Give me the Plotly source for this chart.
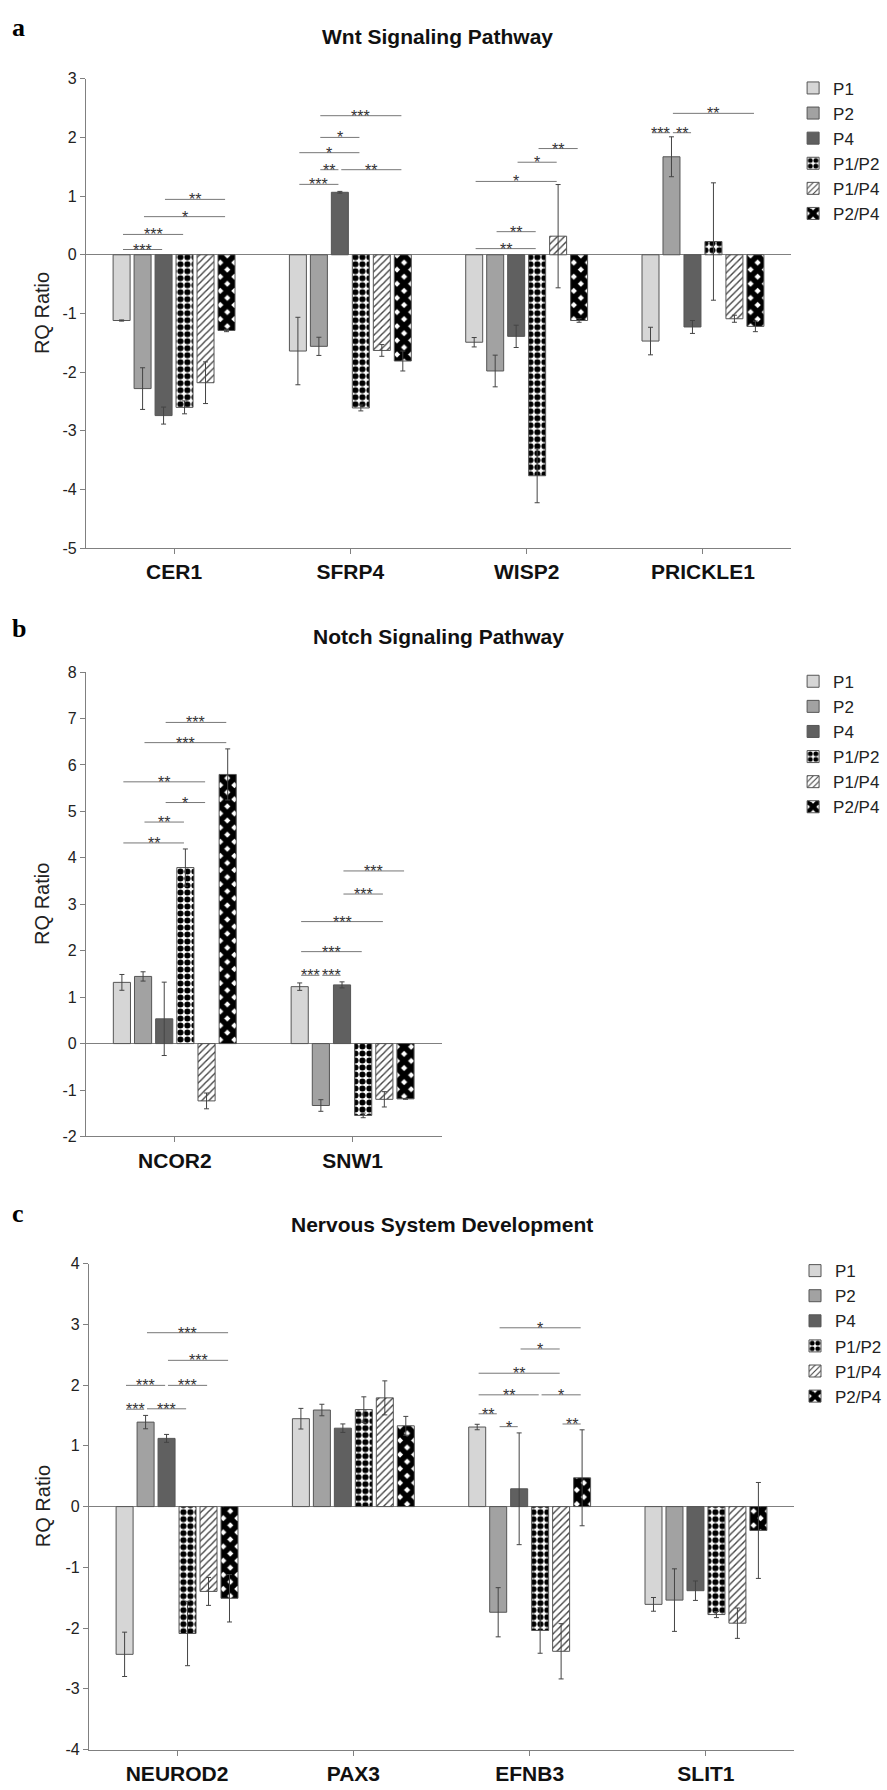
import plotly.graph_objects as go

# ---------------- data ----------------
SERIES = ["P1", "P2", "P4", "P1/P2", "P1/P4", "P2/P4"]

# Panel a: Wnt Signaling Pathway
genes_a = ["CER1", "SFRP4", "WISP2", "PRICKLE1"]
a_p1 = [-1.12, -1.64, -1.49, -1.47]
a_p2 = [-2.28, -1.56, -1.98, 1.67]
a_p4 = [-2.74, 1.065, -1.39, -1.23]
a_p1p2 = [-2.60, -2.61, -3.765, 0.226]
a_p1p4 = [-2.18, -1.63, 0.317, -1.09]
a_p2p4 = [-1.29, -1.81, -1.12, -1.22]
a_p1_err = [0.01, 0.575, 0.08, 0.235]
a_p2_err = [0.355, 0.155, 0.27, 0.34]
a_p4_err = [0.145, 0.015, 0.19, 0.11]
a_p1p2_err = [0.11, 0.05, 0.46, 1.0]
a_p1p4_err = [0.355, 0.10, 0.88, 0.06]
a_p2p4_err = [0.02, 0.17, 0.03, 0.09]

# Panel b: Notch Signaling Pathway
genes_b = ["NCOR2", "SNW1"]
b_p1 = [1.318, 1.226]
b_p2 = [1.446, -1.333]
b_p4 = [0.533, 1.264]
b_p1p2 = [3.79, -1.546]
b_p1p4 = [-1.234, -1.20]
b_p2p4 = [5.795, -1.19]
b_p1_err = [0.17, 0.08]
b_p2_err = [0.10, 0.125]
b_p4_err = [0.79, 0.065]
b_p1p2_err = [0.40, 0.05]
b_p1p4_err = [0.17, 0.165]
b_p2p4_err = [0.55, 0.01]

# Panel c: Nervous System Development
genes_c = ["NEUROD2", "PAX3", "EFNB3", "SLIT1"]
c_p1 = [-2.433, 1.447, 1.31, -1.61]
c_p2 = [1.391, 1.59, -1.74, -1.54]
c_p4 = [1.123, 1.291, 0.293, -1.385]
c_p1p2 = [-2.09, 1.597, -2.04, -1.778]
c_p1p4 = [-1.397, 1.79, -2.383, -1.92]
c_p2p4 = [-1.51, 1.33, 0.474, -0.393]
c_p1_err = [0.365, 0.17, 0.045, 0.113]
c_p2_err = [0.11, 0.095, 0.405, 0.515]
c_p4_err = [0.065, 0.07, 0.92, 0.16]
c_p1p2_err = [0.53, 0.21, 0.375, 0.05]
c_p1p4_err = [0.23, 0.28, 0.455, 0.25]
c_p2p4_err = [0.39, 0.155, 0.79, 0.79]

# significance brackets: (gene index, series i, series j, y level, label)
brackets_a = [
    (0, 0, 2, 0.09, "***"), (0, 0, 3, 0.347, "***"), (0, 1, 5, 0.65, "*"), (0, 2, 5, 0.944, "**"),
    (1, 0, 2, 1.20, "***"), (1, 1, 2, 1.45, "**"), (1, 2, 5, 1.45, "**"), (1, 0, 3, 1.74, "*"),
    (1, 1, 3, 2.0, "*"), (1, 1, 5, 2.37, "***"),
    (2, 0, 3, 0.105, "**"), (2, 1, 3, 0.394, "**"), (2, 0, 4, 1.25, "*"), (2, 2, 4, 1.577, "*"),
    (2, 3, 5, 1.81, "**"),
    (3, 0, 1, 2.08, "***"), (3, 1, 2, 2.08, "**"), (3, 1, 5, 2.41, "**"),
]
brackets_b = [
    (0, 0, 3, 4.32, "**"), (0, 1, 3, 4.77, "**"), (0, 2, 4, 5.19, "*"), (0, 0, 4, 5.636, "**"),
    (0, 1, 5, 6.48, "***"), (0, 2, 5, 6.915, "***"),
    (1, 0, 1, 1.47, "***"), (1, 1, 2, 1.47, "***"), (1, 0, 3, 1.98, "***"), (1, 0, 4, 2.627, "***"),
    (1, 2, 4, 3.22, "***"), (1, 2, 5, 3.717, "***"),
]
brackets_c = [
    (0, 0, 1, 1.603, "***"), (0, 1, 3, 1.61, "***"), (0, 0, 2, 1.996, "***"), (0, 2, 4, 1.996, "***"),
    (0, 2, 5, 2.408, "***"), (0, 1, 5, 2.863, "***"),
    (2, 0, 1, 1.528, "**"), (2, 1, 2, 1.316, "*"), (2, 4, 5, 1.36, "**"), (2, 0, 3, 1.84, "**"),
    (2, 3, 5, 1.84, "*"), (2, 0, 4, 2.196, "**"), (2, 2, 4, 2.595, "*"), (2, 1, 5, 2.944, "*"),
]

titles = ["Wnt Signaling Pathway", "Notch Signaling Pathway", "Nervous System Development"]
panel_letters = ["a", "b", "c"]

# ---------------- styles ----------------
W, H = 887, 1790
FONT = "Liberation Sans, Arial, Helvetica, sans-serif"
BARGAP = 0.286
BARGROUPGAP = 0.19
NS = len(SERIES)

styles = [
    dict(color="#d6d6d6"),
    dict(color="#a2a2a2"),
    dict(color="#606060"),
    dict(color="#ffffff", pattern=dict(shape=".", fgcolor="#000000", bgcolor="#ffffff",
                                       size=7, solidity=0.6, fillmode="replace")),
    dict(color="#ffffff", pattern=dict(shape="/", fgcolor="#444444", bgcolor="#ffffff",
                                       size=5, solidity=0.28, fillmode="replace")),
    dict(color="#ffffff", pattern=dict(shape="x", fgcolor="#000000", bgcolor="#ffffff",
                                       size=10, solidity=0.8, fillmode="replace")),
]


def px_x(x):
    return x / W


def px_y(y):
    return 1 - y / H


panels = [
    dict(genes=genes_a,
         vals=[a_p1, a_p2, a_p4, a_p1p2, a_p1p4, a_p2p4],
         errs=[a_p1_err, a_p2_err, a_p4_err, a_p1p2_err, a_p1p4_err, a_p2p4_err],
         brackets=brackets_a, yrange=[-5, 3],
         xdom=[86, 792], ydom=[71.4, 545.4],
         title_xy=(438, 28.6), letter_y=20, legend_xy=(794, 63)),
    dict(genes=genes_b,
         vals=[b_p1, b_p2, b_p4, b_p1p2, b_p1p4, b_p2p4],
         errs=[b_p1_err, b_p2_err, b_p4_err, b_p1p2_err, b_p1p4_err, b_p2p4_err],
         brackets=brackets_b, yrange=[-2, 8],
         xdom=[86, 442], ydom=[670.4, 1139.3],
         title_xy=(438.7, 635), letter_y=626.8, legend_xy=(794, 662)),
    dict(genes=genes_c,
         vals=[c_p1, c_p2, c_p4, c_p1p2, c_p1p4, c_p2p4],
         errs=[c_p1_err, c_p2_err, c_p4_err, c_p1p2_err, c_p1p4_err, c_p2p4_err],
         brackets=brackets_c, yrange=[-4, 4],
         xdom=[89, 795], ydom=[1267.7, 1758.2],
         title_xy=(442.8, 1228.3), letter_y=1216.8, legend_xy=(796, 1257)),
]

fig = go.Figure()
shapes = []
annotations = []
layout = {}


def series_offset(i):
    slot = (1 - BARGAP) / NS
    return -(1 - BARGAP) / 2 + slot * (i + 0.5)


for p_idx, p in enumerate(panels):
    sfx = "" if p_idx == 0 else str(p_idx + 1)
    xa, ya = "x" + sfx, "y" + sfx
    leg = "legend" + sfx
    for s_idx, name in enumerate(SERIES):
        st = styles[s_idx]
        marker = dict(color=st["color"], line=dict(color="#555555", width=1))
        if "pattern" in st:
            marker["pattern"] = st["pattern"]
        fig.add_trace(go.Bar(
            x=p["genes"], y=p["vals"][s_idx], name=name,
            marker=marker,
            error_y=dict(type="data", array=p["errs"][s_idx], visible=True,
                         color="#444444", thickness=1, width=2.5),
            xaxis=xa, yaxis=ya, legend=leg, showlegend=True,
        ))
    lo, hi = p["yrange"]
    tvals = list(range(lo, hi + 1))
    layout["xaxis" + sfx] = dict(
        domain=[px_x(p["xdom"][0]), px_x(p["xdom"][1])], anchor=ya,
        range=[-0.5, len(p["genes"]) - 0.5], type="category",
        showline=True, linecolor="#808080", linewidth=1,
        ticks="outside", ticklen=5, tickcolor="#808080", showgrid=False,
        tickfont=dict(family=FONT, size=21, color="#111111", weight="bold"),
        fixedrange=True,
    )
    layout["yaxis" + sfx] = dict(
        domain=[px_y(p["ydom"][1]), px_y(p["ydom"][0])], anchor=xa,
        range=p["yrange"], tickmode="array", tickvals=tvals,
        ticktext=[str(v) for v in tvals], showgrid=False,
        showline=True, linecolor="#808080", linewidth=1,
        ticks="outside", ticklen=5, tickcolor="#808080",
        zeroline=True, zerolinecolor="#808080", zerolinewidth=1,
        tickfont=dict(family=FONT, size=16, color="#222222"),
        fixedrange=True,
    )
    layout[leg] = dict(
        x=px_x(p["legend_xy"][0]), y=px_y(p["legend_xy"][1]),
        xanchor="left", yanchor="top", bgcolor="rgba(0,0,0,0)",
        font=dict(family=FONT, size=17, color="#222222"), traceorder="normal",
    )
    # brackets
    for (g, i, j, yv, lab) in p["brackets"]:
        x0 = g + series_offset(i) + 0.008
        x1 = g + series_offset(j) - 0.008
        shapes.append(dict(type="line", xref=xa, yref=ya, x0=x0, x1=x1, y0=yv, y1=yv,
                           line=dict(color="#777777", width=1)))
        annotations.append(dict(xref=xa, yref=ya, x=(x0 + x1) / 2, y=yv, text=lab,
                                showarrow=False, yanchor="bottom", yshift=-10, borderpad=0,
                                font=dict(family=FONT, size=16, color="#333333")))
    # title
    annotations.append(dict(xref="paper", yref="paper", x=px_x(p["title_xy"][0]),
                            y=px_y(p["title_xy"][1]), text="<b>" + titles[p_idx] + "</b>",
                            showarrow=False, xanchor="center", yanchor="middle",
                            font=dict(family=FONT, size=21, color="#111111")))
    # panel letter
    annotations.append(dict(xref="paper", yref="paper", x=px_x(10), y=px_y(p["letter_y"]),
                            text="<b>" + panel_letters[p_idx] + "</b>", showarrow=False,
                            xanchor="left", yanchor="middle",
                            font=dict(family="Liberation Serif, Times New Roman, serif", size=26,
                                      color="#000000")))
    # y axis title
    annotations.append(dict(xref="paper", yref="paper", x=px_x(42.7),
                            y=px_y((p["ydom"][0] + p["ydom"][1]) / 2), text="RQ Ratio",
                            textangle=-90, showarrow=False, xanchor="center", yanchor="middle",
                            font=dict(family=FONT, size=20, color="#222222")))

fig.update_layout(
    width=W, height=H, margin=dict(l=0, r=0, t=0, b=0),
    paper_bgcolor="white", plot_bgcolor="white",
    barmode="group", bargap=BARGAP, bargroupgap=BARGROUPGAP,
    shapes=shapes, annotations=annotations,
    font=dict(family=FONT, color="#222222"),
    **layout,
)

fig.write_html("out.html", config={"displayModeBar": False},
               post_script="document.body.style.margin='0';document.body.style.overflow='hidden';")
